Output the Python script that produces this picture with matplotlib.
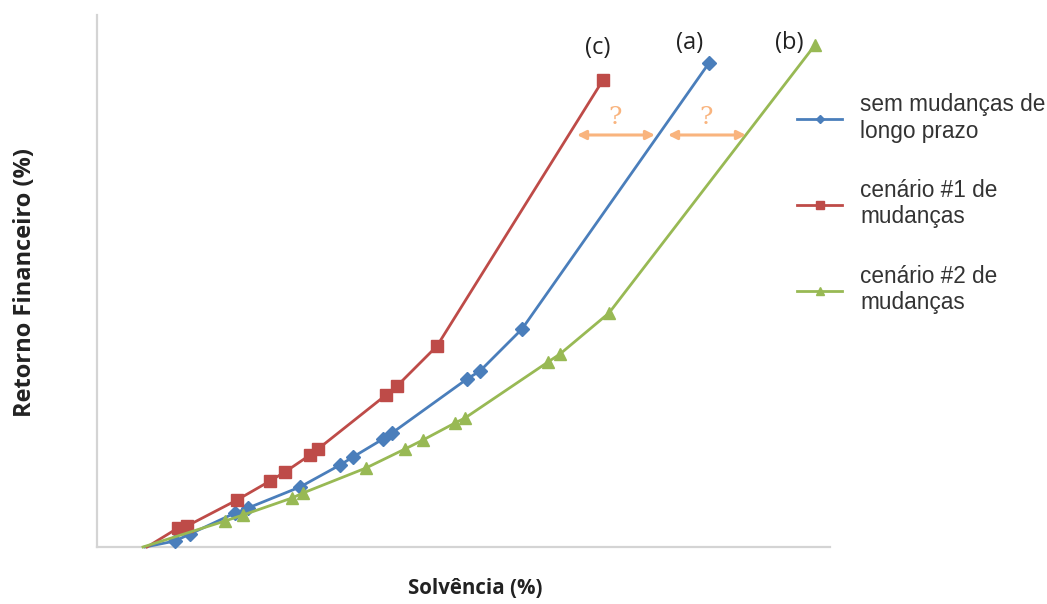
import numpy as np
import matplotlib
matplotlib.use("Agg")
from matplotlib import pyplot as plt

# values (arbitrary units, origin at the axes corner)
sem_x = [145, 175, 190, 235, 248, 300, 340, 353, 383, 392, 467, 480, 522, 709]
sem_y = [0, 6, 13, 34, 39, 60, 82, 90, 108, 114, 168, 176, 218, 484]

c1_x = [147, 178, 187, 237, 270, 285, 310, 318, 386, 397, 437, 603]
c1_y = [0, 19, 21, 47, 66, 75, 92, 98, 152, 161, 201, 467]

c2_x = [143, 225, 243, 292, 303, 366, 405, 423, 455, 465, 548, 560, 609, 815]
c2_y = [0, 26, 32, 49, 54, 79, 98, 107, 124, 129, 185, 193, 234, 502]

labels = ["sem mudanças de\nlongo prazo", "cenário #1 de\nmudanças", "cenário #2 de\nmudanças"]
blue, red, green = "#4A7EBB", "#BE4B48", "#98B954"
orange = "#F9B47E"

fig = plt.figure(figsize=(10.47, 6.04), dpi=100)
W, H = 1047, 604
ax = fig.add_axes([97 / W, (H - 547) / H, (830 - 97) / W, (547 - 15) / H])

ax.plot(sem_x, sem_y, color=blue, lw=2, marker="D", ms=7, markevery=slice(1, None),
        label=labels[0], clip_on=False, zorder=3)
ax.plot(c1_x, c1_y, color=red, lw=2, marker="s", ms=9, markevery=slice(1, None),
        label=labels[1], clip_on=False, zorder=3)
ax.plot(c2_x, c2_y, color=green, lw=2, marker="^", ms=9, markevery=slice(1, None),
        label=labels[2], clip_on=False, zorder=3)

ax.set_xlim(97, 830)
ax.set_ylim(0, 532)
for s in ["top", "right"]:
    ax.spines[s].set_visible(False)
for s in ["left", "bottom"]:
    ax.spines[s].set_color("#D4D4D4")
    ax.spines[s].set_linewidth(1.6)
ax.set_xticks([])
ax.set_yticks([])

# curve tags
for txt, x, y in [("(c)", 598, 499), ("(a)", 690, 504), ("(b)", 789, 504)]:
    ax.text(x, y, txt, ha="center", va="center", fontsize=17, color="#222222",
            family="Open Sans", clip_on=False)

# double arrows between curves
for x0, x1 in [(577, 655), (668, 746)]:
    ax.annotate("", xy=(x0, 412), xytext=(x1, 412),
                arrowprops=dict(arrowstyle="<|-|>", color=orange, lw=2.2,
                                mutation_scale=13, shrinkA=0, shrinkB=0))
    ax.text((x0 + x1) / 2 - 1, 430, "?", ha="center", va="center", fontsize=18,
            color=orange, family="DejaVu Serif")

leg = ax.legend(loc="upper left", bbox_to_anchor=(797 / W, 1 - 93 / H),
                bbox_transform=fig.transFigure, frameon=False,
                prop={"family": "Liberation Sans", "size": 16.3},
                handlelength=2.0, handletextpad=0.8, labelspacing=1.6,
                markerscale=0.6, borderpad=0, borderaxespad=0)
for t in leg.get_texts():
    t.set_color("#333333")
    t.set_linespacing(1.2)

fig.text(475 / W, 1 - 589 / H, "Solvência (%)", ha="center", va="center",
         fontsize=14.8, fontweight="bold", family="Open Sans", color="#222222")
fig.text(25 / W, 1 - 282 / H, "Retorno Financeiro (%)", ha="center", va="center",
         rotation=90, fontsize=17, fontweight="bold", family="Open Sans", color="#222222")

fig.savefig("out.png", dpi=100)
